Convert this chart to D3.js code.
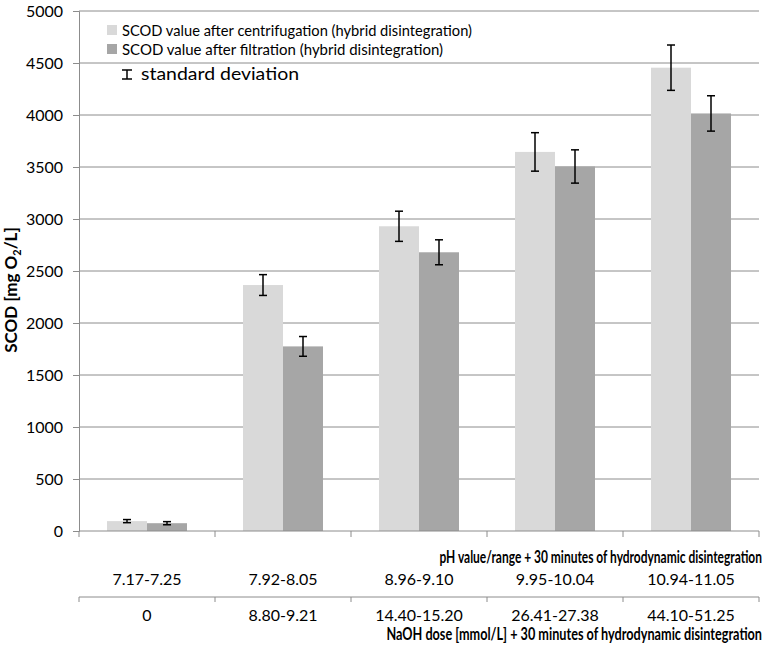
<!DOCTYPE html>
<html><head><meta charset="utf-8">
<script src="https://cdn.jsdelivr.net/npm/d3@7"></script>
<style>body{margin:0;background:#fff}svg{display:block;font-family:Lato,"Open Sans",sans-serif}</style>
</head><body><svg id="c" width="780" height="647"></svg>
<script>
const categories = ["c1","c2","c3","c4","c5"];
const phLabels = ["7.17-7.25","7.92-8.05","8.96-9.10","9.95-10.04","10.94-11.05"];
const naohLabels = ["0","8.80-9.21","14.40-15.20","26.41-27.38","44.10-51.25"];
const centrifugation = [95, 2365, 2930, 3645, 4455];
const centrifugationSD = [15, 100, 145, 185, 218];
const filtration = [75, 1775, 2680, 3505, 4015];
const filtrationSD = [15, 95, 120, 160, 170];
const yTicks = [0,500,1000,1500,2000,2500,3000,3500,4000,4500,5000];
const seriesNames = ["SCOD value after centrifugation (hybrid disintegration)","SCOD value after filtration (hybrid disintegration)"];
const colors = ["#d9d9d9","#a6a6a6"];
const gridColor = "#8c8c8c";

(function(){
const svg = d3.select("#c");
const pL = 79, pR = 759, pT = 11, pB = 531;
const x = d3.scaleBand().domain(categories).range([pL, pR]).paddingInner(0).paddingOuter(0);
const y = d3.scaleLinear().domain([0,5000]).range([pB, pT]);
const sub = d3.scaleBand().domain([0,1]).range([0, 80]);
const barOffset = (x.bandwidth() - 80) / 2;

function squeezed(txt, rx, by, size, target) {
  const g = svg.append("g");
  const t = g.append("text").attr("font-size", size).attr("font-weight", "bold")
    .attr("text-anchor", "end").text(txt);
  const w = t.node().getComputedTextLength();
  const sx = Math.min(1, target / w);
  g.attr("transform", `translate(${rx},${by}) scale(${sx},1)`);
  return t;
}

svg.append("g").selectAll("line").data(yTicks.filter(d=>d>0)).join("line")
  .attr("x1", pL).attr("x2", pR).attr("y1", d=>y(d)).attr("y2", d=>y(d))
  .attr("stroke", gridColor).attr("stroke-width", 1);

const yAxis = svg.append("g").attr("transform", `translate(${pL},0)`)
  .call(d3.axisLeft(y).tickValues(yTicks).tickSize(6).tickPadding(10).tickFormat(d3.format("d")));
yAxis.select(".domain").attr("stroke", gridColor);
yAxis.selectAll(".tick line").attr("stroke", gridColor);
yAxis.selectAll("text").attr("font-size", 16).attr("fill", "#000").attr("font-family", "Lato, 'Open Sans', sans-serif");

const series = [
  {vals: centrifugation, sd: centrifugationSD},
  {vals: filtration, sd: filtrationSD}
];
series.forEach((s, si) => {
  svg.append("g").selectAll("rect").data(categories).join("rect")
    .attr("x", c => x(c) + barOffset + sub(si))
    .attr("width", sub.bandwidth())
    .attr("y", (c,i) => y(s.vals[i]))
    .attr("height", (c,i) => pB - y(s.vals[i]))
    .attr("fill", colors[si]);
});
series.forEach((s, si) => {
  const g = svg.append("g").attr("stroke", "#000").attr("stroke-width", 1.5);
  categories.forEach((c, i) => {
    const cx = x(c) + barOffset + sub(si) + sub.bandwidth()/2;
    const y1 = y(s.vals[i] + s.sd[i]), y2 = y(s.vals[i] - s.sd[i]);
    g.append("line").attr("x1", cx).attr("x2", cx).attr("y1", y1).attr("y2", y2);
    g.append("line").attr("x1", cx-4).attr("x2", cx+4).attr("y1", y1).attr("y2", y1);
    g.append("line").attr("x1", cx-4).attr("x2", cx+4).attr("y1", y2).attr("y2", y2);
  });
});

const bounds = categories.map(c => x(c)).concat([pR]);
const xAxis = svg.append("g").attr("transform", `translate(0,${pB})`);
xAxis.append("line").attr("x1", pL).attr("x2", pR).attr("stroke", gridColor);
xAxis.selectAll("line.t").data(bounds).join("line").attr("class","t")
  .attr("x1", d=>d).attr("x2", d=>d).attr("y1", 0).attr("y2", 6).attr("stroke", gridColor);

const xAxis2 = svg.append("g").attr("transform", `translate(0,597)`);
xAxis2.append("line").attr("x1", pL).attr("x2", pR).attr("stroke", gridColor);
xAxis2.selectAll("line.t").data(bounds).join("line").attr("class","t")
  .attr("x1", d=>d).attr("x2", d=>d).attr("y1", 0).attr("y2", 5).attr("stroke", gridColor);

svg.append("g").selectAll("text").data(categories).join("text")
  .attr("x", c => x(c) + x.bandwidth()/2).attr("y", 585)
  .attr("text-anchor", "middle").attr("font-size", 16).text((c,i)=>phLabels[i]);
svg.append("g").selectAll("text").data(categories).join("text")
  .attr("x", c => x(c) + x.bandwidth()/2).attr("y", 621)
  .attr("text-anchor", "middle").attr("font-size", 16).text((c,i)=>naohLabels[i]);

squeezed("pH value/range + 30 minutes of hydrodynamic disintegration", 762, 563, 17, 323);
squeezed("NaOH dose [mmol/L] + 30 minutes of hydrodynamic disintegration", 762, 640, 17, 376);

const yt = svg.append("text").attr("transform", "translate(17,290) rotate(-90)")
  .attr("text-anchor","middle").attr("font-size", 17).attr("font-weight","bold");
yt.append("tspan").text("SCOD [mg O");
yt.append("tspan").attr("font-size", 11).attr("dy", 4).text("2");
yt.append("tspan").attr("dy", -4).text("/L]");

const lg = svg.append("g");
const legendLens = [350, 321];
seriesNames.forEach((n, i) => {
  const yy = 30 + i*19;
  lg.append("rect").attr("x", 107).attr("y", yy-5).attr("width", 10).attr("height", 10).attr("fill", colors[i]);
  lg.append("text").attr("x", 122).attr("y", yy+6).attr("font-size", 16)
    .attr("textLength", legendLens[i]).attr("lengthAdjust","spacingAndGlyphs").text(n);
});
const sdg = lg.append("g").attr("stroke","#000").attr("stroke-width",1.5);
sdg.append("line").attr("x1",127).attr("x2",127).attr("y1",70).attr("y2",79);
sdg.append("line").attr("x1",122).attr("x2",132).attr("y1",70).attr("y2",70);
sdg.append("line").attr("x1",122).attr("x2",132).attr("y1",79).attr("y2",79);
lg.append("text").attr("x", 141).attr("y", 80).attr("font-size", 17)
  .attr("textLength", 158).attr("lengthAdjust","spacingAndGlyphs").text("standard deviation");
})();
</script></body></html>
